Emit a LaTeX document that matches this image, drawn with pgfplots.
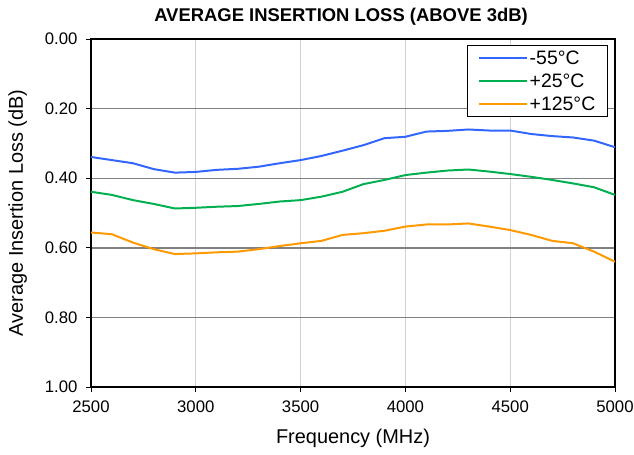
\documentclass[border=0pt]{standalone}
\usepackage{pgfplots}
\pgfplotsset{compat=1.18}
\usepackage{fontspec}
\setmainfont{Liberation Sans}
\definecolor{cblue}{RGB}{51,102,255}
\definecolor{cgreen}{RGB}{0,176,80}
\definecolor{corange}{RGB}{255,153,0}
\definecolor{hgrid}{RGB}{128,128,128}
\definecolor{vgrid}{RGB}{210,210,210}
\begin{document}
\begin{tikzpicture}
\begin{axis}[
  scale only axis,
  width=524bp, height=348bp,
  xmin=2500, xmax=5000, ymin=0, ymax=1,
  y dir=reverse,
  xtick={2500,3000,...,5000},
  ytick={0,0.2,0.4,0.6,0.8,1},
  /pgf/number format/assume math mode=true,
  xticklabel style={/pgf/number format/1000 sep={}, yshift=-5bp},
  yticklabel style={xshift=-5bp, /pgf/number format/fixed, /pgf/number format/fixed zerofill, /pgf/number format/precision=2},
  scaled y ticks=false,
  ticklabel style={font=\fontsize{16.8}{19}\selectfont, text=black},
  tick align=outside,
  major tick length=5bp,
  tick style={black, line width=1pt},
  xtick pos=bottom, ytick pos=left,
  axis line style={black, line width=1.6pt},
  xmajorgrids, ymajorgrids,
  x grid style={vgrid, line width=1pt},
  y grid style={hgrid, line width=1.4pt},
  xlabel={Frequency (MHz)},
  ylabel={Average Insertion Loss (dB)},
  label style={font=\fontsize{20}{22}\selectfont},
  xlabel style={yshift=-10bp},
  ylabel style={yshift=11bp},
  title={\textbf{AVERAGE INSERTION LOSS (ABOVE 3dB)}},
  title style={font=\fontsize{18.5}{20}\selectfont, yshift=4bp, xshift=-12bp},
  legend style={at={(0.9866,0.983)}, anchor=north east, draw=black, line width=1.4pt,
    font=\fontsize{19.5}{21}\selectfont, legend cell align=left, inner xsep=10bp, inner ysep=3bp,
    row sep=4bp},
  legend image code/.code={\draw[#1] (-2bp,0bp) -- (46bp,0bp);},
]
\addplot[cblue, line width=2pt] coordinates {
(2500,0.339)(2600,0.348)(2700,0.357)(2800,0.374)(2900,0.384)(3000,0.382)
(3100,0.376)(3200,0.373)(3300,0.367)(3400,0.357)(3500,0.348)(3600,0.336)
(3700,0.321)(3800,0.305)(3900,0.285)(4000,0.281)(4100,0.266)(4200,0.264)
(4300,0.260)(4400,0.263)(4500,0.263)(4600,0.273)(4700,0.279)(4800,0.283)
(4900,0.292)(5000,0.311)};
\addlegendentry{-55°C}
\addplot[cgreen, line width=2pt] coordinates {
(2500,0.439)(2600,0.448)(2700,0.463)(2800,0.474)(2900,0.487)(3000,0.485)
(3100,0.482)(3200,0.480)(3300,0.474)(3400,0.467)(3500,0.463)(3600,0.453)
(3700,0.439)(3800,0.417)(3900,0.405)(4000,0.391)(4100,0.384)(4200,0.378)
(4300,0.375)(4400,0.381)(4500,0.388)(4600,0.396)(4700,0.405)(4800,0.415)
(4900,0.426)(5000,0.448)};
\addlegendentry{+25°C}
\addplot[corange, line width=2pt] coordinates {
(2500,0.556)(2600,0.561)(2700,0.585)(2800,0.604)(2900,0.618)(3000,0.616)
(3100,0.613)(3200,0.611)(3300,0.604)(3400,0.595)(3500,0.587)(3600,0.580)
(3700,0.563)(3800,0.558)(3900,0.551)(4000,0.539)(4100,0.533)(4200,0.533)
(4300,0.530)(4400,0.539)(4500,0.549)(4600,0.563)(4700,0.580)(4800,0.587)
(4900,0.611)(5000,0.640)};
\addlegendentry{+125°C}
\end{axis}
\pgfresetboundingbox
\path (-91bp,-68bp) rectangle (543bp,387bp);
\end{tikzpicture}
\end{document}
